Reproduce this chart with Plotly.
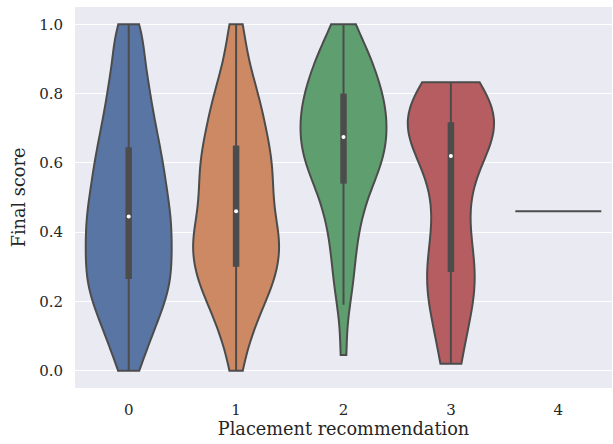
import numpy as np
import plotly.graph_objects as go

# Final scores grouped by placement recommendation
categories = [0, 1, 2, 3, 4]
scores_0 = [0.00, 0.04, 0.08,
            0.11, 0.13, 0.15, 0.17, 0.19,
            0.21, 0.22, 0.24, 0.25, 0.26, 0.28, 0.29,
            0.31, 0.32, 0.34, 0.35, 0.36, 0.38, 0.39,
            0.41, 0.42, 0.44, 0.45, 0.46, 0.48, 0.49,
            0.51, 0.53, 0.54, 0.56, 0.58, 0.59,
            0.61, 0.63, 0.65, 0.67, 0.69,
            0.71, 0.74, 0.76, 0.79,
            0.82, 0.85, 0.88,
            0.93, 0.97, 1.00]
scores_1 = [0.00, 0.07,
            0.11, 0.14, 0.16, 0.19,
            0.21, 0.22, 0.24, 0.25, 0.27, 0.28, 0.29,
            0.31, 0.32, 0.33, 0.34, 0.36, 0.37, 0.38, 0.39,
            0.40, 0.415, 0.43, 0.445, 0.46, 0.475, 0.49,
            0.505, 0.52, 0.535, 0.55, 0.565, 0.58, 0.595,
            0.61, 0.62, 0.64, 0.66, 0.67, 0.69,
            0.71, 0.73, 0.75, 0.77, 0.79,
            0.82, 0.85, 0.88,
            0.94, 1.00]
scores_2 = [0.045,
            0.19,
            0.24, 0.28,
            0.32, 0.36, 0.39,
            0.42, 0.45, 0.47, 0.49,
            0.51, 0.53, 0.55, 0.56, 0.575, 0.585, 0.595,
            0.605, 0.615, 0.625, 0.635, 0.645, 0.655, 0.665, 0.675, 0.685, 0.695,
            0.705, 0.715, 0.725, 0.735, 0.745, 0.755, 0.765, 0.775, 0.785, 0.795,
            0.805, 0.815, 0.83, 0.84, 0.855, 0.87, 0.885, 0.895,
            0.91, 0.93, 0.95, 0.97, 1.00]
scores_3 = [0.02, 0.14, 0.22, 0.27, 0.29, 0.38, 0.48, 0.57,
            0.67, 0.68, 0.70, 0.71, 0.74, 0.75, 0.78, 0.833]
scores_4 = [0.46]
groups = [scores_0, scores_1, scores_2, scores_3, scores_4]

# kernel width used for each density estimate
kde_bandwidth = [0.065, 0.065, 0.075, 0.11, None]

fill_colors = ["#5975A4", "#CC8963", "#5F9E6E", "#B55D60", "#857AAB"]
edge = "#4C4C4C"
font_family = "DejaVu Serif"

fig = go.Figure()

for cat, vals, bw, color in zip(categories, groups, kde_bandwidth, fill_colors):
    arr = np.asarray(vals, dtype=float)
    if arr.size > 1:
        # own scale group so every violin reaches the full slot width
        fig.add_trace(go.Violin(
            x=[cat] * arr.size, y=arr, bandwidth=bw,
            spanmode="hard", scalemode="width", scalegroup=f"g{cat}", width=0.8,
            points=False, box_visible=False, meanline_visible=False,
            fillcolor=color, line=dict(color=edge, width=2),
            opacity=1, hoverinfo="skip", showlegend=False,
        ))
        q1, med, q3 = np.percentile(arr, [25, 50, 75])
        iqr = q3 - q1
        lo = arr[arr >= q1 - 1.5 * iqr].min()
        hi = arr[arr <= q3 + 1.5 * iqr].max()
        # whisker
        fig.add_trace(go.Scatter(x=[cat, cat], y=[lo, hi], mode="lines",
                                 line=dict(color=edge, width=2),
                                 hoverinfo="skip", showlegend=False))
        # interquartile box
        fig.add_trace(go.Scatter(x=[cat, cat], y=[q1, q3], mode="lines",
                                 line=dict(color=edge, width=6.5),
                                 hoverinfo="skip", showlegend=False))
        # median
        fig.add_trace(go.Scatter(x=[cat], y=[med], mode="markers",
                                 marker=dict(color="white", size=4),
                                 hoverinfo="skip", showlegend=False))
    else:
        # a single observation is drawn as a flat line across the slot
        fig.add_trace(go.Scatter(x=[cat - 0.4, cat + 0.4], y=[arr[0], arr[0]],
                                 mode="lines", line=dict(color=edge, width=2),
                                 hoverinfo="skip", showlegend=False))

fig.update_layout(
    width=613, height=444,
    margin=dict(l=75, r=1, t=7, b=56),
    paper_bgcolor="white", plot_bgcolor="#EAEAF2",
    violinmode="overlay",
    font=dict(family=font_family, size=15, color="#262626"),
)
fig.update_xaxes(
    range=[-0.5, 4.5], tickvals=categories, ticktext=[str(c) for c in categories],
    showgrid=False, zeroline=False, ticks="outside", ticklen=8, tickcolor="rgba(0,0,0,0)",
    title=dict(text="Placement recommendation", font=dict(size=17.7), standoff=3),
)
fig.update_yaxes(
    range=[-0.05, 1.05], tickvals=[0, 0.2, 0.4, 0.6, 0.8, 1.0],
    ticktext=["0.0", "0.2", "0.4", "0.6", "0.8", "1.0"],
    showgrid=True, gridcolor="white", gridwidth=1.3, zeroline=False,
    ticks="outside", ticklen=8, tickcolor="rgba(0,0,0,0)",
    title=dict(text="Final score", font=dict(size=17.7), standoff=8),
)

fig.write_html("out.html")
